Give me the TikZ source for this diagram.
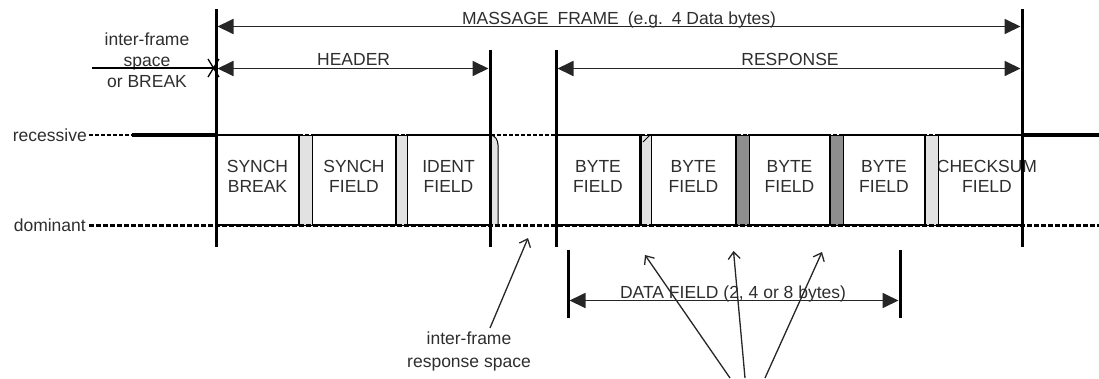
\documentclass[tikz,border=0pt]{standalone}
\usepackage{fontspec}
\setmainfont{Liberation Sans}
\usetikzlibrary{arrows.meta}
\definecolor{txt}{HTML}{2E2E2E}
\definecolor{lgrey}{HTML}{E2E2E2}
\definecolor{dgrey}{HTML}{8E8E8E}
\begin{document}
\begin{tikzpicture}[x=1pt,y=-1pt,
  lbl/.style={font=\fontsize{17.5}{20}\selectfont, text=txt, inner sep=0pt, align=center},
  fieldbox/.style={draw=black, line width=1.2pt, fill=white, minimum height=90pt, inner sep=0pt,
     font=\fontsize{17.5}{20}\selectfont, text=txt, align=center, text depth=8pt},
  lsliver/.style={draw=black, line width=1pt, fill=lgrey},
  dsliver/.style={draw=black, line width=1pt, fill=dgrey},
  bar/.style={line width=3pt, black},
  dim/.style={line width=1.8pt, black!85, {Triangle[length=16pt,width=15pt]}-{Triangle[length=16pt,width=15pt]}},
  pointer/.style={line width=1.3pt, black!85, -{Straight Barb[length=7pt,width=12pt]}},
  refdash/.style={line width=2pt, dash pattern=on 4pt off 2pt},
  refdashb/.style={line width=3pt, dash pattern=on 5pt off 2pt}]
\useasboundingbox (0,0) rectangle (1099,378);

% level labels
\node[lbl, anchor=east] (rec) at (87,135) {recessive};
\node[lbl, anchor=east] (dom) at (86,225) {dominant};

% reference lines
\coordinate (r0) at (89,135); \coordinate (r1) at (1099,135);
\coordinate (d0) at (89,225); \coordinate (d1) at (1099,225);

% fields
\node[fieldbox, minimum width=83pt] (sb) at (257.5,180) {SYNCH\\BREAK};
\node[fieldbox, minimum width=84pt] (sf) at (354,180) {SYNCH\\FIELD};
\node[fieldbox, minimum width=83pt] (idf) at (448.5,180) {IDENT\\FIELD};
\node[fieldbox, minimum width=84pt] (b1) at (598,180) {BYTE\\FIELD};
\node[fieldbox, minimum width=85pt] (b2) at (693.5,180) {BYTE\\FIELD};
\node[fieldbox, minimum width=81pt] (b3) at (789.5,180) {BYTE\\FIELD};
\node[fieldbox, minimum width=82pt] (b4) at (884,180) {BYTE\\FIELD};
\node[fieldbox, minimum width=84pt] (cs) at (980,180) {};
\node[lbl] (cst) at (987,176) {CHECKSUM\\FIELD};

% slivers
\draw[lsliver] (299,135) rectangle (312,225);
\draw[lsliver] (396,135) rectangle (407,225);
\draw[lsliver] (640,135) rectangle (651,225);
\draw[line width=2.5pt] (641,136) -- (641,225);
\draw[line width=1pt] (643,142) -- (650,135);
\draw[dsliver] (736,135) rectangle (749,225);
\draw[dsliver] (830,135) rectangle (843,225);
\draw[lsliver] (925,135) rectangle (938,225);
\fill[lgrey] (490,135) to[out=0,in=90] (498,145) -- (498,225) -- (490,225) -- cycle;
\draw[line width=1pt] (490,135) to[out=0,in=90] (498,145) -- (498,225);

\draw[refdash] (r0) -- (r1);
\draw[refdashb] (d0) -- (d1);
\draw[line width=3.5pt] (132,135) -- (216,135);
\draw[line width=3.5pt] (1022,135) -- (1099,135);

% vertical bars
\coordinate (v1t) at (216,9);  \coordinate (v1b) at (216,247);
\coordinate (v2t) at (490,50); \coordinate (v2b) at (490,247);
\coordinate (v3t) at (556,50); \coordinate (v3b) at (556,247);
\coordinate (v4t) at (1022,9); \coordinate (v4b) at (1022,247);
\draw[bar] (v1t) -- (v1b);
\draw[bar] (v2t) -- (v2b);
\draw[bar] (v3t) -- (v3b);
\draw[bar] (v4t) -- (v4b);

% dimension arrows
\coordinate (mL) at (217.5,26.5); \coordinate (mR) at (1020.5,26.5);
\draw[dim] (mL) -- (mR);
\node[lbl, anchor=base] (mf) at (619,24) {MASSAGE\hspace{9pt}FRAME\hspace{9pt}(e.g.\hspace{9pt}4 Data bytes)};

\coordinate (hL) at (217.5,68.5); \coordinate (hR) at (488.5,68.5);
\draw[dim] (hL) -- (hR);
\node[lbl, anchor=base] (hd) at (353.6,65) {HEADER};

\coordinate (pL) at (557.5,68.5); \coordinate (pR) at (1020.5,68.5);
\draw[dim] (pL) -- (pR);
\node[lbl, anchor=base] (rs) at (790,65) {RESPONSE};

% inter-frame space or break
\node[lbl] (ifs) at (147,60) {inter-frame\\[1pt]space\\[1pt]or BREAK};
\coordinate (iL) at (92,68); \coordinate (iR) at (216,68);
\draw[line width=1.6pt] (iL) -- (iR);
\draw[line width=1.3pt] (208,59) -- (219,77) (208,77) -- (219,59);

% data field
\coordinate (dL1) at (568,250); \coordinate (dL2) at (568,318);
\coordinate (dR1) at (900,250); \coordinate (dR2) at (900,318);
\draw[bar] (dL1) -- (dL2);
\draw[bar] (dR1) -- (dR2);
\coordinate (dfL) at (569.5,300.5); \coordinate (dfR) at (898.5,300.5);
\draw[dim] (dfL) -- (dfR);
\node[lbl, anchor=base] (dft) at (733,298) {DATA FIELD (2, 4 or 8 bytes)};

% inter-frame response space
\node[lbl] (irs) at (469,351.5) {inter-frame\\[3pt]response space};
\coordinate (irT) at (490,328); \coordinate (irH) at (528,238);
\draw[pointer] (irT) -- (irH);

% pointers to bytes
\coordinate (p1t) at (730,378); \coordinate (p1h) at (645,255);
\coordinate (p2t) at (745,378); \coordinate (p2h) at (733.5,251);
\coordinate (p3t) at (765,378); \coordinate (p3h) at (822,252);
\draw[pointer] (p1t) -- (p1h);
\draw[pointer] (p2t) -- (p2h);
\draw[pointer] (p3t) -- (p3h);
\end{tikzpicture}
\end{document}
